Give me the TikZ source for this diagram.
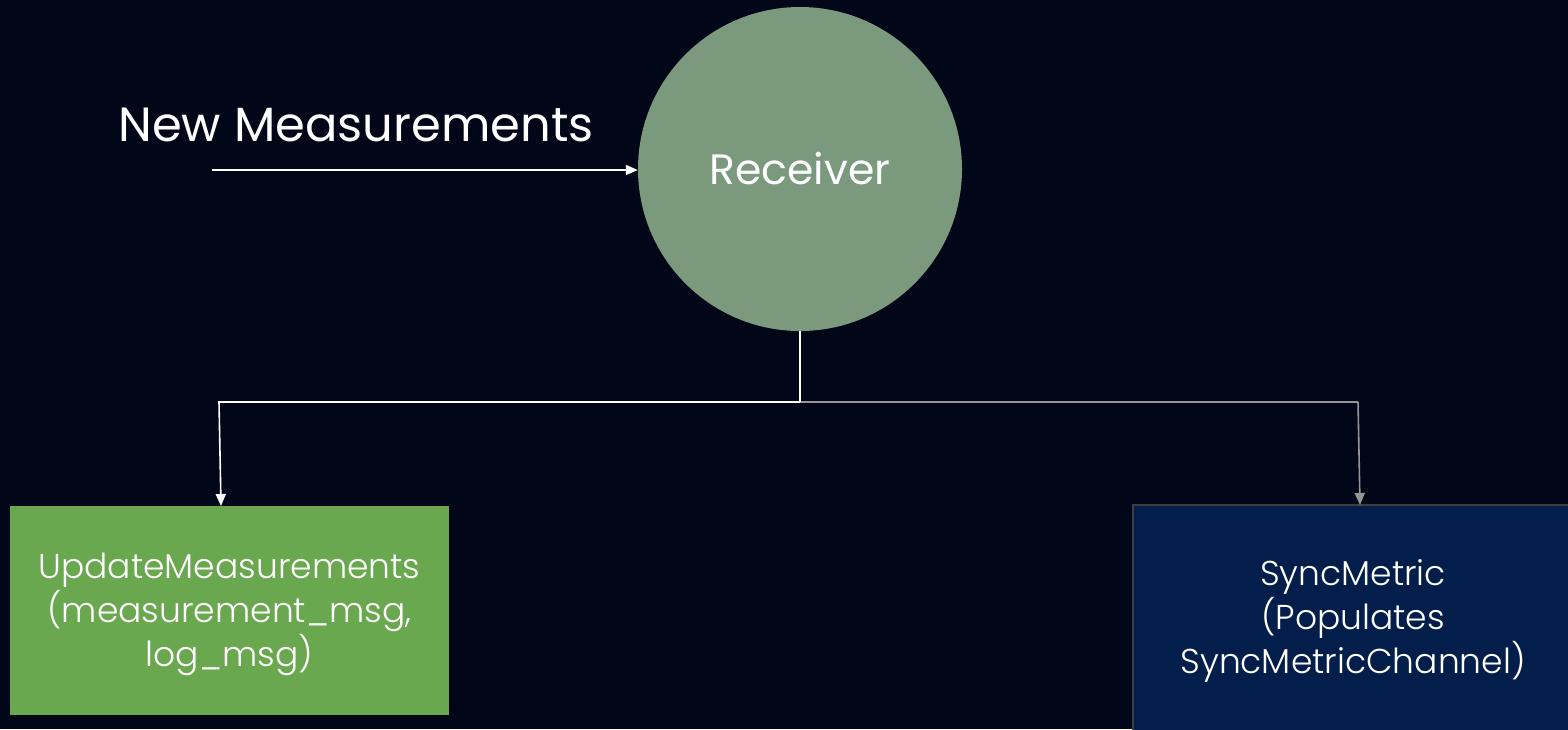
\documentclass[tikz,border=0pt]{standalone}
\usepackage{fontspec}
\setmainfont{Poppins}
\newfontfamily\lightfont{Poppins}[UprightFont=* Light]
\usetikzlibrary{arrows.meta}
\definecolor{bgnavy}{RGB}{2,6,25}
\definecolor{recvgreen}{RGB}{122,153,125}
\definecolor{updgreen}{RGB}{106,168,79}
\definecolor{syncblue}{RGB}{3,30,74}
\definecolor{syncedge}{RGB}{62,62,66}
\definecolor{wire}{RGB}{150,150,150}
\tikzset{
  flow/.style={draw=white, line width=1.6pt, -{Triangle[length=12pt,width=10pt]}},
  grayflow/.style={draw=wire, line width=1.6pt, -{Triangle[length=12pt,width=10pt]}},
  boxtext/.style={text=white, font=\lightfont\fontsize{34.5}{44}\selectfont, align=center},
}
\begin{document}
\begin{tikzpicture}[x=1pt,y=-1pt]
  % canvas
  \fill[bgnavy] (0,0) rectangle (1568,729);
  \useasboundingbox (0,0) rectangle (1568,729);

  % receiver circle
  \node[circle, fill=recvgreen, minimum size=324pt, inner sep=0pt] (recv) at (800,169) {};
  \node[text=white, font=\fontsize{42.5}{50}\selectfont] (recvlabel) at (800,169) {Receiver};

  % incoming measurements
  \node[text=white, font=\fontsize{48}{56}\selectfont, anchor=center] (newm) at (356,125) {New Measurements};
  \coordinate (src) at (212,170);
  \draw[flow] (src) -- (recv.west |- src);

  % output boxes
  \path[fill=updgreen] (10,506) rectangle (449,715);
  \node[boxtext] (upd) at (229.5,614) {UpdateMeasurements\\(measurement\_msg,\\log\_msg)};
  \coordinate (updtop) at (221,506);

  \path[fill=syncblue, draw=syncedge, line width=2pt] (1133,505) rectangle (1580,740);
  \node[boxtext] (sync) at (1353,621) {SyncMetric\\(Populates\\SyncMetricChannel)};
  \coordinate (synctop) at (1360,505);

  % branching connectors
  \coordinate (split) at (800,402);
  \coordinate (lcorner) at (219,402);
  \coordinate (rcorner) at (1358,402);
  \draw[draw=wire, line width=1.6pt] (split) -- (rcorner);
  \draw[grayflow] (rcorner) -- (synctop);
  \draw[draw=white, line width=1.6pt] (recv.south) -- (split);
  \draw[flow] (split) -- (lcorner) -- (updtop);
\end{tikzpicture}
\end{document}
